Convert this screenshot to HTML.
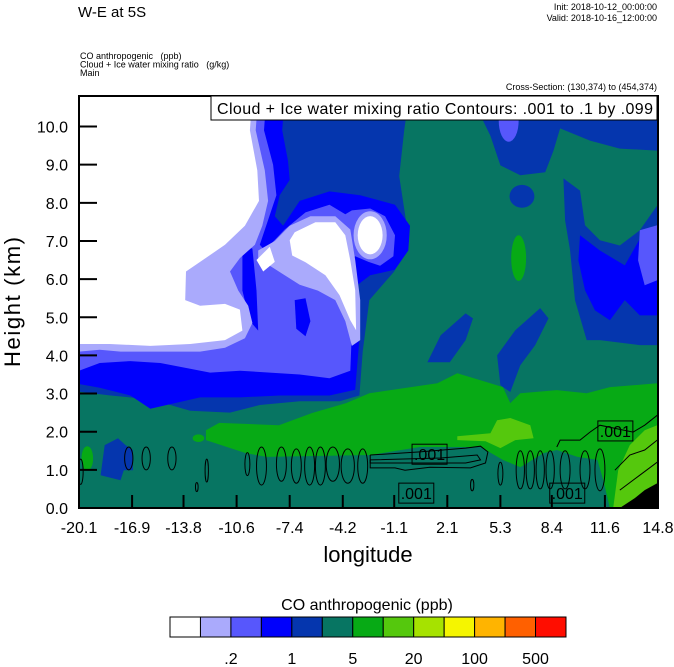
<!DOCTYPE html>
<html><head><meta charset="utf-8"><style>
html,body{margin:0;padding:0;background:#fff;}
svg{display:block;font-family:"Liberation Sans",Arial,sans-serif;}
</style></head><body>
<svg id="chart" width="674" height="667" viewBox="0 0 674 667" xmlns="http://www.w3.org/2000/svg">
<defs><clipPath id="pc"><rect x="79" y="96" width="579" height="412"/></clipPath></defs>
<text x="78" y="17" font-size="15">W-E at 5S</text>
<text x="657" y="10" font-size="9" text-anchor="end">Init: 2018-10-12_00:00:00</text>
<text x="657" y="21" font-size="9" text-anchor="end">Valid: 2018-10-16_12:00:00</text>
<text x="80" y="59" font-size="9" xml:space="preserve">CO anthropogenic   (ppb)</text>
<text x="80" y="67.5" font-size="9" xml:space="preserve">Cloud + Ice water mixing ratio   (g/kg)</text>
<text x="80" y="76" font-size="9">Main</text>
<text x="657" y="90" font-size="9" text-anchor="end">Cross-Section: (130,374) to (454,374)</text>
<g id="field" clip-path="url(#pc)"></g>
<g id="lines" clip-path="url(#pc)"></g>
<rect x="79" y="96" width="579" height="412" fill="none" stroke="#000" stroke-width="2"/>
<g id="axes"></g>
<rect x="211" y="96" width="446" height="24" fill="#fff" stroke="#000" stroke-width="1"/>
<text x="217" y="114" font-size="16" textLength="436">Cloud + Ice water mixing ratio Contours: .001 to .1 by .099</text>
<text x="368" y="562" font-size="22" text-anchor="middle">longitude</text>
<text transform="translate(20,302) rotate(-90)" font-size="22" text-anchor="middle" textLength="130">Height (km)</text>
<text x="367" y="610" font-size="16" text-anchor="middle">CO anthropogenic  (ppb)</text>
<g id="cbar"></g>
</svg>
<script>
const xTicks=["-20.1","-16.9","-13.8","-10.6","-7.4","-4.2","-1.1","2.1","5.3","8.4","11.6","14.8"];
const yTicks=[0,1,2,3,4,5,6,7,8,9,10];
const cbColors=["#ffffff","#aaaafc","#5757fc","#0000fc","#0536ae","#077562","#07aa15","#55c80d","#a6e200","#f5f500","#ffb400","#ff6000","#ff0d00"];
const cbLabels=[".2","1","5","20","100","500"];
const cbLabelIdx=[2,4,6,8,10,12];
const C={w:"#ffffff",lb:"#aaaafc",mb:"#5757fc",b:"#0000fc",db:"#0536ae",t:"#077562",g:"#07aa15",lg:"#55c80d",k:"#000000"};
const regDarkBlue=[[-20.1,10.8],[-0.2,10.8],[-0.5,9.9],[-0.8,8.7],[-0.2,7.0],[-1.1,6.2],[-2.6,5.45],[-3.0,4.1],[-3.2,2.95],[-4.4,2.8],[-6.8,2.8],[-9.2,2.7],[-11.0,2.5],[-13.4,2.55],[-15.8,2.85],[-18.2,2.95],[-20.1,3.05]];
const regBlue=[[-20.1,10.8],[-8.6,10.8],[-7.7,10.8],[-7.85,9.9],[-7.5,9.1],[-7.4,8.6],[-8.0,8.2],[-8.3,7.65],[-7.8,7.4],[-6.8,8.05],[-5.0,8.3],[-3.15,8.2],[-1.05,7.95],[-0.15,7.4],[-0.25,6.75],[-1.05,6.25],[-2.55,6.1],[-3.3,5.85],[-3.15,4.65],[-3.3,3.9],[-3.45,3.1],[-5.0,2.95],[-8.0,2.95],[-10.4,2.9],[-12.8,2.9],[-15.8,2.6],[-17.0,2.95],[-18.85,3.15],[-20.1,3.25]];
const regMedBlue=[[-20.1,10.8],[-9.5,10.8],[-8.8,10.8],[-8.95,9.9],[-8.4,9.0],[-8.2,8.2],[-8.7,7.55],[-9.2,6.9],[-8.9,6.75],[-7.7,7.3],[-6.45,7.75],[-5.0,7.95],[-4.05,7.7],[-3.65,7.8],[-2.55,7.85],[-1.65,7.65],[-1.05,7.15],[-1.15,6.6],[-1.95,6.35],[-2.65,6.45],[-3.45,6.6],[-3.9,6.45],[-3.75,5.45],[-3.65,4.65],[-3.75,3.6],[-5.0,3.4],[-6.8,3.5],[-8.6,3.55],[-10.4,3.6],[-12.2,3.55],[-13.4,3.65],[-15.2,3.8],[-17.0,3.85],[-18.85,3.8],[-20.1,3.6]];
const regBlueSpot1=[[-10.25,6.9],[-9.65,6.8],[-9.4,5.7],[-9.3,4.65],[-9.8,4.9],[-10.25,5.7]];
const regBlueSpot2=[[-7.1,5.45],[-6.45,5.5],[-6.15,4.9],[-6.45,4.5],[-7.0,4.7]];
const regLight1=[[-20.1,10.8],[-9.3,10.8],[-9.45,9.9],[-8.9,8.85],[-8.7,8.05],[-9.05,7.4],[-9.5,6.9],[-10.4,6.55],[-11.0,6.2],[-10.5,5.7],[-9.9,5.3],[-9.65,4.85],[-10.1,4.45],[-11.3,4.2],[-12.8,4.1],[-15.2,4.1],[-17.6,4.1],[-18.85,4.15],[-20.1,4.1]];
const regLight2=[[-9.3,6.75],[-8.3,7.0],[-7.4,7.4],[-6.15,7.65],[-4.65,7.65],[-3.75,7.3],[-3.45,6.5],[-3.15,5.45],[-3.15,4.4],[-3.65,4.25],[-4.05,4.9],[-4.65,5.45],[-5.7,5.7],[-6.8,5.85],[-7.7,6.1],[-8.6,6.35],[-9.3,6.55]];
const regWhite1=[[-20.1,10.8],[-9.65,10.8],[-9.8,9.9],[-9.35,8.85],[-9.25,8.05],[-10.1,7.4],[-11.3,6.9],[-12.8,6.45],[-13.65,6.2],[-13.7,5.45],[-12.8,5.3],[-11.3,5.35],[-10.4,5.2],[-10.25,4.65],[-11.3,4.4],[-13.4,4.3],[-15.8,4.25],[-18.25,4.3],[-20.1,4.3]];
const regWhite2=[[-7.1,7.23],[-5.85,7.49],[-4.65,7.49],[-4.05,7.15],[-3.75,6.49],[-3.45,5.71],[-3.4,4.66],[-3.75,4.92],[-4.4,5.58],[-5.25,6.1],[-6.45,6.44],[-7.25,6.62],[-7.4,7.02]];
const regWhiteSmall=[[-9.4,6.5],[-8.6,6.85],[-8.3,6.45],[-9.0,6.2]];
const regTopStrip=[[4.1,10.8],[14.75,10.8],[14.75,9.37],[12.5,9.42],[10.7,9.63],[8.9,9.95],[8.5,9.37],[8.0,8.8],[6.5,8.72],[5.3,8.98],[4.7,9.76],[4.1,10.29]];
const regRightDB=[[9.1,8.64],[10.1,8.32],[10.4,7.41],[11.3,7.02],[12.5,6.88],[13.7,7.28],[14.75,7.93],[14.75,4.27],[13.7,4.27],[11.3,4.4],[10.5,4.4],[9.8,5.45],[9.5,6.75],[9.2,7.54]];
const regRightB=[[10.1,7.15],[11.3,6.75],[12.8,6.36],[14.0,7.28],[14.75,7.41],[14.75,5.05],[13.7,5.05],[12.8,5.45],[11.9,4.92],[11.0,5.18],[10.4,5.71],[10.0,6.49]];
const regRightMB=[[13.7,7.28],[14.75,7.41],[14.75,5.97],[14.0,5.84],[13.6,6.49]];
const regDB2=[[0.9,3.82],[1.7,4.53],[3.2,5.1],[3.65,4.97],[3.2,4.4],[2.25,3.82]];
const regDB3=[[5.3,3.22],[5.1,4.0],[6.2,4.66],[7.7,5.24],[8.2,4.97],[7.4,4.27],[6.5,3.74],[5.9,3.04]];
const regDBLow=[[-18.8,0.86],[-18.55,1.65],[-17.75,1.83],[-17.3,1.65],[-16.85,1.52],[-16.85,0.99],[-17.4,0.99],[-17.6,0.73]];
const regGreen=[[-12.45,1.78],[-12.45,2.04],[-11.65,2.23],[-8.05,2.17],[-6.05,2.49],[-4.0,2.75],[-2.6,3.01],[1.5,3.27],[2.7,3.53],[4.1,3.35],[5.45,3.17],[5.9,2.75],[6.5,3.01],[8.7,3.09],[10.5,3.01],[11.9,3.17],[14.75,3.27],[14.75,0],[11.9,0],[11.5,0.73],[11.15,1.26],[9.95,1.34],[8.7,1.52],[7.9,1.44],[6.5,1.07],[5.45,1.26],[4.1,1.6],[0.45,1.6],[-2.55,1.39],[-8.8,1.34],[-10.05,1.44]];
const regLightGreen1=[[2.7,1.88],[4.7,1.96],[5.1,2.3],[5.9,2.36],[7.1,2.17],[7.3,1.83],[6.2,1.78],[5.3,1.57],[4.4,1.75],[2.7,1.78]];
const regLightGreen2=[[12.1,0],[12.4,0.99],[13.1,1.65],[14.0,2.04],[14.75,2.17],[14.75,0]];
const regBlack=[[12.5,0],[13.4,0.26],[14.0,0.47],[14.75,0.65],[14.75,0]];
const ellLight3=[-2.55,7.15,1.0,0.63];
const ellWhite3=[-2.55,7.15,0.75,0.5];
const ellMedTop=[5.8,10.15,0.6,0.55];
const ellDB1=[6.6,8.17,0.75,0.3];
const ellGreenMid=[6.4,6.55,0.45,0.6];
const ellGreenL1=[-19.6,1.3,0.35,0.32];
const ellGreenL2=[-12.9,1.83,0.35,0.1];
const cloudOvals=[[-20.0,0.95,0.15,0.33],[-17.1,1.3,0.25,0.3],[-16.05,1.3,0.25,0.3],[-14.5,1.3,0.25,0.3],[-12.4,0.98,0.1,0.3],[-13.0,0.55,0.08,0.12],[-9.95,1.15,0.15,0.3],[-9.1,1.1,0.3,0.5],[-7.9,1.15,0.3,0.45],[-7.0,1.1,0.3,0.45],[-6.2,1.1,0.3,0.5],[-5.55,1.1,0.3,0.5],[-4.8,1.15,0.4,0.45],[-3.9,1.1,0.4,0.45],[-3.0,1.1,0.3,0.45],[5.3,0.9,0.15,0.3],[3.6,0.6,0.1,0.15],[6.5,1.0,0.25,0.5],[7.1,1.0,0.25,0.5],[7.7,1.0,0.25,0.5],[8.3,1.0,0.25,0.5],[9.2,1.0,0.3,0.5],[10.4,1.0,0.3,0.5],[11.3,1.0,0.3,0.55]];
const cloudLoop1=[[-2.55,1.39],[0.45,1.47],[3.2,1.57],[4.1,1.62],[4.55,1.47],[4.4,1.18],[3.5,1.05],[1.05,1.07],[-0.45,0.99],[-1.05,1.05],[-2.55,1.05]];
const cloudLoop2=[[-2.55,1.26],[1.7,1.31],[3.9,1.39],[4.1,1.26],[3.2,1.18],[-2.55,1.18]];
const cloudLine1=[[8.7,1.6],[8.9,1.78],[10.1,1.78],[10.7,1.99],[11.3,2.17],[13.3,1.99],[14.0,2.17],[14.75,2.43]];
const cloudLine2=[[12.2,0.99],[13.1,1.39],[14.0,1.52],[14.75,1.78]];
const cloudLine3=[[12.5,0.47],[13.7,0.86],[14.75,1.2]];
const contourLabels=[[1.0,1.41],[0.2,0.39],[9.3,0.39],[12.2,2.02]];
const contourLabelText=[".001",".001",".001",".001"];

const X0=79,X1=658,Y0=508,Y1=96,LON0=-20.1,LON1=14.8,HMAX=10.8;
const sx=l=>X0+(l-LON0)/(LON1-LON0)*(X1-X0);
const sy=h=>Y0-h/HMAX*(Y0-Y1);
const NS="http://www.w3.org/2000/svg";
const field=document.getElementById('field');
const lines=document.getElementById('lines');
function pts(a){return a.map(p=>sx(p[0]).toFixed(1)+","+sy(p[1]).toFixed(1)).join(" ");}
function poly(parent,a,fill,name,stroke){
  const e=document.createElementNS(NS,stroke?'polyline':'polygon');
  e.setAttribute('points',pts(a));
  if(stroke){e.setAttribute('fill','none');e.setAttribute('stroke','#000');e.setAttribute('stroke-width','1');}
  else e.setAttribute('fill',fill);
  
  
  parent.appendChild(e);return e;
}
function ell(parent,a,fill,name,stroke){
  const e=document.createElementNS(NS,'ellipse');
  e.setAttribute('cx',sx(a[0]));e.setAttribute('cy',sy(a[1]));
  e.setAttribute('rx',Math.abs(sx(a[0]+a[2])-sx(a[0])));e.setAttribute('ry',Math.abs(sy(a[1])-sy(a[1]+a[3])));
  if(stroke){e.setAttribute('fill','none');e.setAttribute('stroke','#000');e.setAttribute('stroke-width','1');}
  else e.setAttribute('fill',fill);
  
  
  parent.appendChild(e);
}
const bg=document.createElementNS(NS,'rect');
bg.setAttribute('x',X0);bg.setAttribute('y',Y1);bg.setAttribute('width',X1-X0);bg.setAttribute('height',Y0-Y1);bg.setAttribute('fill',C.t);


field.appendChild(bg);
poly(field,regDarkBlue,C.db,'co-dark-blue-region');
poly(field,regTopStrip,C.db,'co-top-strip-region');
ell(field,ellMedTop,C.mb,'co-top-medium-spot');
ell(field,ellDB1,C.db,'co-dark-blue-spot');
poly(field,regRightDB,C.db,'co-right-dark-blue-region');
poly(field,regRightB,C.b,'co-right-blue-region');
poly(field,regRightMB,C.mb,'co-right-medium-blue-region');
poly(field,regDB2,C.db,'co-dark-blue-patch-2');
poly(field,regDB3,C.db,'co-dark-blue-patch-3');
ell(field,ellGreenMid,C.g,'co-green-spot');
poly(field,regBlue,C.b,'co-blue-region');
poly(field,regMedBlue,C.mb,'co-medium-blue-region');
poly(field,regBlueSpot1,C.b,'co-blue-spot-1');
poly(field,regBlueSpot2,C.b,'co-blue-spot-2');
poly(field,regLight1,C.lb,'co-light-blue-region');
poly(field,regLight2,C.lb,'co-light-blue-region-2');
ell(field,ellLight3,C.lb,'co-light-blue-ring');
poly(field,regWhite1,C.w,'co-white-region');
poly(field,regWhite2,C.w,'co-white-region-2');
poly(field,regWhiteSmall,C.w,'co-white-small');
ell(field,ellWhite3,C.w,'co-white-oval');
poly(field,regDBLow,C.db,'co-low-dark-blue-patch');
poly(field,regGreen,C.g,'co-green-layer');
ell(field,ellGreenL1,C.g,'co-green-patch-1');
ell(field,ellGreenL2,C.g,'co-green-patch-2');
poly(field,regLightGreen1,C.lg,'co-light-green-patch');
poly(field,regLightGreen2,C.lg,'co-light-green-region');
poly(field,regBlack,C.k,'terrain');
cloudOvals.forEach(o=>ell(lines,o,null,'cloud-contour-oval',true));
poly(lines,cloudLoop1.concat([cloudLoop1[0]]),null,'cloud-contour-loop',true);
poly(lines,cloudLoop2.concat([cloudLoop2[0]]),null,'cloud-contour-loop-inner',true);
poly(lines,cloudLine1,null,'cloud-contour-line',true);
poly(lines,cloudLine2,null,'cloud-contour-line-2',true);
poly(lines,cloudLine3,null,'cloud-contour-line-3',true);
contourLabels.forEach((p,i)=>{
  const r=document.createElementNS(NS,'rect');
  r.setAttribute('x',sx(p[0])-17);r.setAttribute('y',sy(p[1])-10);r.setAttribute('width',35);r.setAttribute('height',20);
  r.setAttribute('fill','none');r.setAttribute('stroke','#000');
  
  
  lines.appendChild(r);
  const t=document.createElementNS(NS,'text');
  t.setAttribute('x',sx(p[0])+0.5);t.setAttribute('y',sy(p[1])+6);t.setAttribute('font-size','16');t.setAttribute('text-anchor','middle');
  t.textContent=contourLabelText[i];
  
  
  lines.appendChild(t);
});
const axes=document.getElementById('axes');
xTicks.forEach((lab,i)=>{
  const x=sx(parseFloat(lab));
  const l=document.createElementNS(NS,'line');
  l.setAttribute('x1',x);l.setAttribute('x2',x);l.setAttribute('y1',Y0);l.setAttribute('y2',Y0-13);l.setAttribute('stroke','#000');l.setAttribute('stroke-width','2');
  
  
  axes.appendChild(l);
  const t=document.createElementNS(NS,'text');
  t.setAttribute('x',x);t.setAttribute('y',533);t.setAttribute('font-size','16');t.setAttribute('text-anchor','middle');
  t.textContent=lab;
  
  
  axes.appendChild(t);
});
yTicks.forEach(v=>{
  const y=sy(v);
  const l=document.createElementNS(NS,'line');
  l.setAttribute('x1',X0);l.setAttribute('x2',X0+18);l.setAttribute('y1',y);l.setAttribute('y2',y);l.setAttribute('stroke','#000');l.setAttribute('stroke-width','2');
  
  
  axes.appendChild(l);
  const t=document.createElementNS(NS,'text');
  t.setAttribute('x',68);t.setAttribute('y',y+6);t.setAttribute('font-size','16');t.setAttribute('text-anchor','end');
  t.textContent=v.toFixed(1);
  
  
  axes.appendChild(t);
});
const cb=document.getElementById('cbar');
const CB0=170,CB1=566,bw=(CB1-CB0)/cbColors.length;
cbColors.forEach((c,i)=>{
  const r=document.createElementNS(NS,'rect');
  r.setAttribute('x',CB0+i*bw);r.setAttribute('y',617);r.setAttribute('width',bw);r.setAttribute('height',20);
  r.setAttribute('fill',c);r.setAttribute('stroke','#000');r.setAttribute('stroke-width','1');
  
  
  cb.appendChild(r);
});
cbLabels.forEach((lab,i)=>{
  const t=document.createElementNS(NS,'text');
  t.setAttribute('x',CB0+cbLabelIdx[i]*bw);t.setAttribute('y',664);t.setAttribute('font-size','16');t.setAttribute('text-anchor','middle');
  t.textContent=lab;
  
  
  cb.appendChild(t);
});
</script>
</body></html>
